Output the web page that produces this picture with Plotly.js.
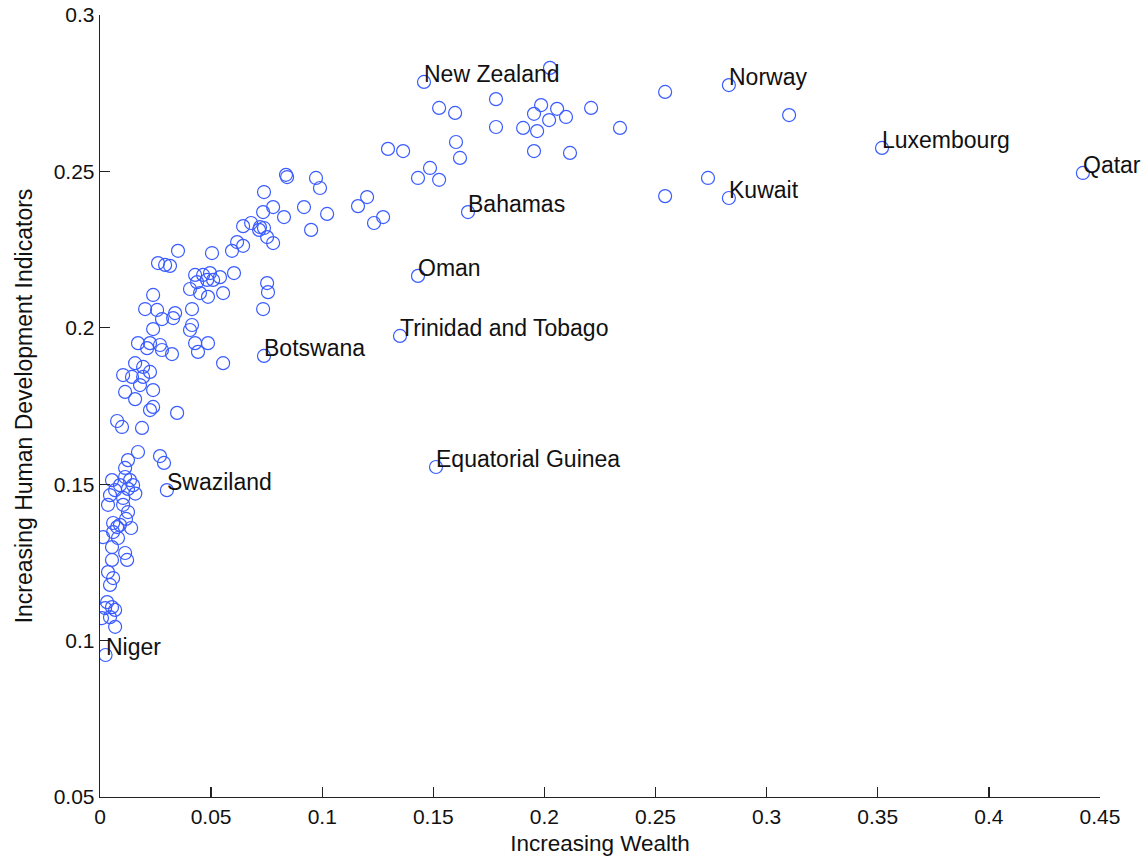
<!DOCTYPE html>
<html>
<head>
<meta charset="utf-8">
<script src="https://cdn.plot.ly/plotly-3.0.1.min.js"></script>
<style>
html,body{margin:0;padding:0;background:#fff;}
#chart{width:1142px;height:857px;}
</style>
</head>
<body>
<div id="chart"></div>
<script>
// Labelled countries
const labelNames = ["New Zealand","Norway","Luxembourg","Qatar","Kuwait","Bahamas","Oman","Trinidad and Tobago","Botswana","Equatorial Guinea","Swaziland","Niger"];
const labelWealth = [0.1458,0.2830,0.3519,0.4423,0.2830,0.1656,0.1431,0.1350,0.0738,0.1512,0.0301,0.0025];
const labelHDI    = [0.2786,0.2776,0.2575,0.2495,0.2415,0.2370,0.2166,0.1974,0.1910,0.1555,0.1481,0.0954];

// Other countries (unlabelled)
const wealth = [
0.2025,0.2543,0.3101,0.2736,0.2543,0.2340,0.2210,0.2115,0.2097,0.1782,
0.1526,0.1598,0.1985,0.1953,0.2057,0.2021,0.1782,0.1904,0.1967,0.1602,
0.1620,0.1296,0.1364,0.1953,0.1485,0.1431,0.1526,0.1202,0.1161,0.1233,
0.1274,0.0837,0.0842,0.0972,0.0990,0.0738,0.0779,0.0734,0.0828,0.0918,
0.1022,0.0950,0.0644,0.0680,0.0720,0.0738,0.0716,0.0752,0.0779,0.0617,
0.0644,0.0594,0.0504,0.0603,0.0540,0.0509,0.0495,0.0464,0.0752,0.0756,
0.0554,0.0351,0.0261,0.0293,0.0315,0.0428,0.0437,0.0482,0.0405,0.0450,
0.0486,0.0734,0.0239,0.0203,0.0257,0.0338,0.0279,0.0329,0.0414,0.0414,
0.0405,0.0239,0.0171,0.0225,0.0270,0.0279,0.0212,0.0324,0.0428,0.0486,
0.0441,0.0554,0.0158,0.0194,0.0225,0.0104,0.0144,0.0194,0.0180,0.0239,
0.0113,0.0158,0.0239,0.0225,0.0347,0.0077,0.0099,0.0189,0.0171,0.0126,
0.0270,0.0288,0.0113,0.0054,0.0113,0.0135,0.0090,0.0068,0.0045,0.0149,
0.0104,0.0036,0.0104,0.0126,0.0059,0.0077,0.0090,0.0059,0.0014,0.0081,
0.0054,0.0113,0.0122,0.0054,0.0036,0.0059,0.0045,0.0032,0.0054,0.0023,
0.0068,0.0009,0.0045,0.0068,0.0126,0.0117,0.0140,0.0159
];
const hdi = [
0.2831,0.2754,0.2680,0.2479,0.2421,0.2639,0.2703,0.2559,0.2674,0.2731,
0.2703,0.2687,0.2712,0.2684,0.2700,0.2664,0.2642,0.2639,0.2629,0.2594,
0.2543,0.2572,0.2565,0.2565,0.2511,0.2479,0.2473,0.2418,0.2389,0.2335,
0.2354,0.2489,0.2482,0.2479,0.2447,0.2434,0.2386,0.2370,0.2354,0.2386,
0.2364,0.2313,0.2325,0.2335,0.2322,0.2319,0.2313,0.2290,0.2271,0.2274,
0.2262,0.2246,0.2239,0.2175,0.2162,0.2153,0.2175,0.2169,0.2143,0.2114,
0.2111,0.2246,0.2207,0.2201,0.2198,0.2169,0.2146,0.2153,0.2124,0.2111,
0.2099,0.2060,0.2105,0.2060,0.2057,0.2047,0.2028,0.2031,0.2060,0.2009,
0.1993,0.1996,0.1951,0.1951,0.1945,0.1929,0.1935,0.1916,0.1951,0.1951,
0.1923,0.1887,0.1887,0.1875,0.1859,0.1849,0.1843,0.1843,0.1817,0.1801,
0.1795,0.1772,0.1747,0.1737,0.1728,0.1702,0.1683,0.1680,0.1603,0.1577,
0.1590,0.1568,0.1552,0.1513,0.1523,0.1513,0.1497,0.1481,0.1465,0.1497,
0.1456,0.1434,0.1434,0.1411,0.1376,0.1363,0.1370,0.1347,0.1331,0.1328,
0.1299,0.1280,0.1258,0.1258,0.1219,0.1200,0.1178,0.1123,0.1107,0.1104,
0.1098,0.1072,0.1075,0.1044,0.1485,0.1389,0.1360,0.1470
];

const xTicks = [0,0.05,0.1,0.15,0.2,0.25,0.3,0.35,0.4,0.45];
const yTicks = [0.05,0.1,0.15,0.2,0.25,0.3];

const FONT = 'Liberation Sans, Arial, sans-serif';
const markerStyle = {symbol:'circle-open', size:13, color:'#3a5cff', line:{width:1.2, color:'#3a5cff'}};

const traces = [
  {type:'scatter', mode:'markers', x:wealth, y:hdi, marker:markerStyle, hoverinfo:'x+y', showlegend:false},
  {type:'scatter', mode:'markers', x:labelWealth, y:labelHDI, text:labelNames, marker:markerStyle, hoverinfo:'text+x+y', showlegend:false}
];

const annotations = labelNames.map((n,i)=>({
  x:labelWealth[i], y:labelHDI[i], text:n, showarrow:false,
  xanchor:'left', yanchor:'middle', xshift:-2, yshift:8,
  font:{family:FONT, size:23, color:'#111'}
}));

const axisCommon = {
  showgrid:false, zeroline:false, showline:true, linecolor:'#222', linewidth:1.3,
  ticks:'inside', ticklen:10, tickwidth:1.3, tickcolor:'#222', mirror:false,
  tickfont:{family:FONT, size:21, color:'#111'}
};

const layout = {
  width:1142, height:857,
  margin:{l:100, r:42, t:15, b:60, pad:0},
  paper_bgcolor:'#fff', plot_bgcolor:'#fff',
  showlegend:false,
  xaxis:Object.assign({}, axisCommon, {
    range:[0,0.45], tickvals:xTicks, ticktext:xTicks.map(String),
    title:{text:'Increasing Wealth', standoff:8, font:{family:FONT, size:22.5, color:'#111'}}
  }),
  yaxis:Object.assign({}, axisCommon, {
    range:[0.05,0.3], tickvals:yTicks, ticktext:yTicks.map(String),
    title:{text:'Increasing Human Development Indicators', standoff:14, font:{family:FONT, size:23, color:'#111'}}
  }),
  annotations:annotations
};

Plotly.newPlot('chart', traces, layout, {displayModeBar:false, staticPlot:true});
</script>
</body>
</html>
